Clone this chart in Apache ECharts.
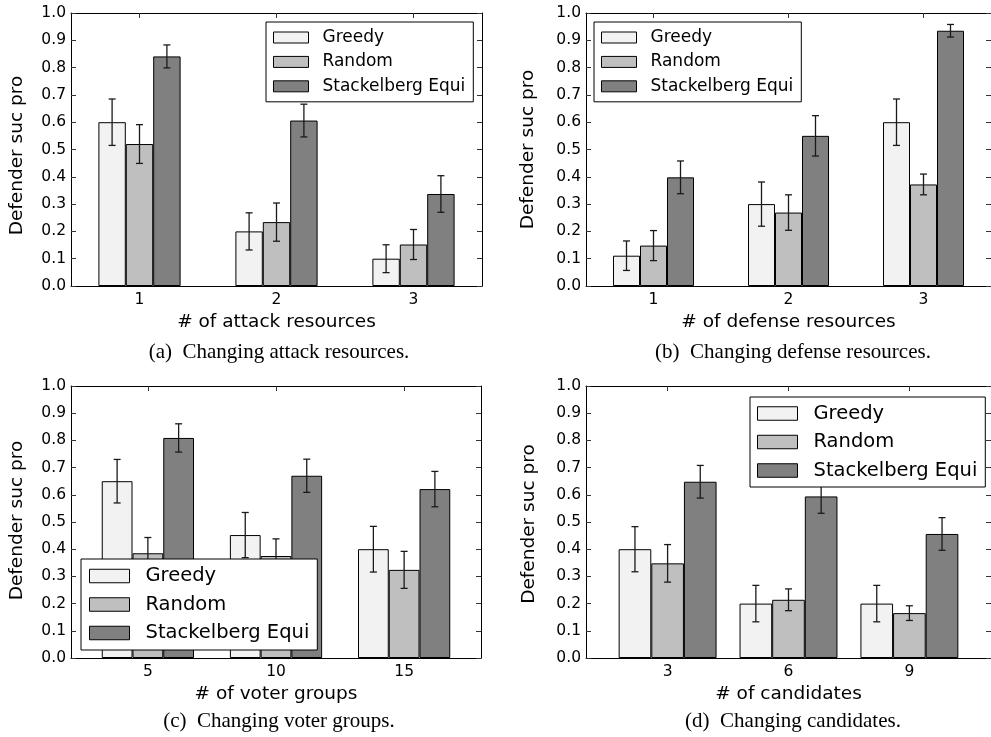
<!DOCTYPE html>
<html>
<head>
<meta charset="utf-8">
<script src="https://cdn.jsdelivr.net/npm/echarts@6/dist/echarts.min.js"></script>
<style>
html,body{margin:0;padding:0;background:#fff;}
#main{width:991px;height:737px;}
</style>
</head>
<body>
<div id="main"></div>
<script>
// ---------- data ----------
const seriesNames = ['Greedy', 'Random', 'Stackelberg Equi'];
const yTicks = [0.0, 0.1, 0.2, 0.3, 0.4, 0.5, 0.6, 0.7, 0.8, 0.9, 1.0];

const catsA = ['1', '2', '3'];
const greedyA = [0.60, 0.20, 0.10];
const greedyErrA = [0.085, 0.068, 0.051];
const randomA = [0.52, 0.234, 0.152];
const randomErrA = [0.071, 0.070, 0.055];
const stackA = [0.841, 0.606, 0.337];
const stackErrA = [0.042, 0.060, 0.067];

const catsB = ['1', '2', '3'];
const greedyB = [0.111, 0.30, 0.60];
const greedyErrB = [0.054, 0.081, 0.085];
const randomB = [0.148, 0.269, 0.372];
const randomErrB = [0.055, 0.065, 0.038];
const stackB = [0.398, 0.55, 0.935];
const stackErrB = [0.060, 0.074, 0.023];

const catsC = ['5', '10', '15'];
const greedyC = [0.65, 0.452, 0.40];
const greedyErrC = [0.080, 0.083, 0.084];
const randomC = [0.385, 0.375, 0.324];
const randomErrC = [0.058, 0.063, 0.068];
const stackC = [0.809, 0.67, 0.621];
const stackErrC = [0.052, 0.061, 0.065];

const catsD = ['3', '6', '9'];
const greedyD = [0.40, 0.20, 0.20];
const greedyErrD = [0.083, 0.067, 0.067];
const randomD = [0.348, 0.214, 0.165];
const randomErrD = [0.069, 0.040, 0.027];
const stackD = [0.648, 0.594, 0.456];
const stackErrD = [0.060, 0.062, 0.060];

const xNames = ['# of attack resources', '# of defense resources', '# of voter groups', '# of candidates'];
const captions = ['(a)  Changing attack resources.', '(b)  Changing defense resources.', '(c)  Changing voter groups.', '(d)  Changing candidates.'];
const yName = 'Defender suc pro';

// ---------- styles / layout ----------
const colors = ['#f2f2f2', '#bfbfbf', '#808080'];
const FONT = 'DejaVu Sans';
const panels = [
  {cats: catsA, vals: [greedyA, randomA, stackA], errs: [greedyErrA, randomErrA, stackErrA],
   grid: {left: 71, top: 13, width: 411, height: 273}, w: 0.2, yGap: 44.5, yPad: [0, 12, 0, 0],
   legend: {left: 266, top: 22, padding: [7, 8, 7, 7], iw: 35, ih: 11, fs: 17, tp: 9}},
  {cats: catsB, vals: [greedyB, randomB, stackB], errs: [greedyErrB, randomErrB, stackErrB],
   grid: {left: 586, top: 13, width: 411, height: 273}, w: 0.2, yGap: 48.5, yPad: [0, 0, 0, 0],
   legend: {left: 594, top: 22, padding: [7, 8, 7, 7], iw: 35, ih: 11, fs: 17, tp: 9}},
  {cats: catsC, vals: [greedyC, randomC, stackC], errs: [greedyErrC, randomErrC, stackErrC],
   grid: {left: 71, top: 386, width: 410, height: 272}, w: 0.24, yGap: 44.5, yPad: [0, 0, 0, 3],
   legend: {left: 81, top: 559, padding: [7, 8, 7, 8], iw: 40, ih: 13.5, fs: 19.5, tp: 11}},
  {cats: catsD, vals: [greedyD, randomD, stackD], errs: [greedyErrD, randomErrD, stackErrD],
   grid: {left: 586, top: 386, width: 410, height: 272}, w: 0.27, yGap: 47.3, yPad: [0, 4, 0, 0],
   legend: {left: 750, top: 397, padding: [6.5, 8, 6.5, 7], iw: 40, ih: 13.5, fs: 19.5, tp: 11}}
];
const capPos = [[279, 352], [793, 352], [279, 721], [793, 721]];

function errRender(k, w) {
  return function (params, api) {
    const x = api.value(0), y = api.value(1), e = api.value(2);
    const bw = api.size([w, 0])[0];
    const c = api.coord([x, y]);
    const cx = c[0] + (k - 1) * bw;
    const top = api.coord([x, y + e])[1];
    const bot = api.coord([x, y - e])[1];
    const cap = 3.5;
    const st = {stroke: '#1a1a1a', lineWidth: 1.3};
    return {type: 'group', children: [
      {type: 'line', shape: {x1: cx, y1: top, x2: cx, y2: bot}, style: st},
      {type: 'line', shape: {x1: cx - cap, y1: top, x2: cx + cap, y2: top}, style: st},
      {type: 'line', shape: {x1: cx - cap, y1: bot, x2: cx + cap, y2: bot}, style: st}
    ]};
  };
}

const option = {
  animation: false,
  backgroundColor: '#fff',
  grid: [], xAxis: [], yAxis: [], series: [], legend: [], graphic: []
};

const axisLine = {show: true, onZero: false, lineStyle: {color: '#000', width: 1}};
panels.forEach(function (p, g) {
  option.grid.push(Object.assign({containLabel: false}, p.grid));
  const xmin = -2.5 * p.w, xmax = 2 + 2.5 * p.w;
  const pos = p.cats.map(function (c, i) { return i; });
  option.xAxis.push({
    type: 'value', gridIndex: g, position: 'bottom', min: xmin, max: xmax,
    axisLine: axisLine, splitLine: {show: false},
    axisTick: {show: true, inside: true, length: 5, customValues: pos, lineStyle: {color: '#333'}},
    axisLabel: {show: true, customValues: pos, margin: 6, fontSize: 15.5, fontFamily: FONT, color: '#000',
      formatter: function (v) { return p.cats[Math.round(v)]; }},
    name: xNames[g], nameLocation: 'middle', nameGap: 26.5,
    nameTextStyle: {fontSize: 18.5, fontFamily: FONT, color: '#000'}
  });
  option.xAxis.push({
    type: 'value', gridIndex: g, position: 'top', min: xmin, max: xmax,
    axisLine: axisLine, splitLine: {show: false},
    axisTick: {show: true, inside: true, length: 5, customValues: pos, lineStyle: {color: '#333'}},
    axisLabel: {show: false}
  });
  option.yAxis.push({
    type: 'value', gridIndex: g, position: 'left', min: 0, max: 1, interval: 0.1,
    axisLine: axisLine, splitLine: {show: false},
    axisTick: {show: true, inside: true, length: 5, lineStyle: {color: '#333'}},
    axisLabel: {show: true, margin: 5, fontSize: 15.5, fontFamily: FONT, color: '#000',
      formatter: function (v) { return v.toFixed(1); }},
    name: yName, nameLocation: 'middle', nameGap: p.yGap,
    nameTextStyle: {fontSize: 18.5, fontFamily: FONT, color: '#000', padding: p.yPad}
  });
  option.yAxis.push({
    type: 'value', gridIndex: g, position: 'right', min: 0, max: 1, interval: 0.1,
    axisLine: axisLine, splitLine: {show: false},
    axisTick: {show: true, inside: true, length: 5, lineStyle: {color: '#333'}},
    axisLabel: {show: false}
  });
  seriesNames.forEach(function (name, k) {
    option.series.push({
      type: 'bar', name: name, xAxisIndex: 2 * g, yAxisIndex: 2 * g,
      barWidth: (p.w * 100) + '%', barGap: '0%',
      itemStyle: {color: colors[k], borderColor: '#000', borderWidth: 1},
      data: p.vals[k].map(function (v, i) { return [i, v]; }),
      z: 2
    });
  });
  seriesNames.forEach(function (name, k) {
    option.series.push({
      type: 'custom', name: name + ' err', xAxisIndex: 2 * g, yAxisIndex: 2 * g,
      renderItem: errRender(k, p.w), encode: {x: 0, y: 1},
      data: p.vals[k].map(function (v, i) { return [i, v, p.errs[k][i]]; }),
      z: 3, silent: true
    });
  });
  const L = p.legend;
  option.legend.push({
    data: seriesNames, orient: 'vertical', left: L.left, top: L.top,
    padding: L.padding, itemGap: 28 * (L.fs / 19.5) - L.fs, itemWidth: L.iw, itemHeight: L.ih,
    icon: 'rect', borderColor: '#000', borderWidth: 1, backgroundColor: '#fff', borderRadius: 0,
    itemStyle: {borderColor: '#000', borderWidth: 1},
    textStyle: {fontSize: L.fs, fontFamily: FONT, color: '#000', padding: [0, 0, 0, L.tp]},
    selectedMode: false, z: 10
  });
  option.graphic.push({
    type: 'text', x: capPos[g][0], y: capPos[g][1],
    style: {text: captions[g], font: '21px "Liberation Serif"', fill: '#000', textAlign: 'center', textVerticalAlign: 'middle'}
  });
});

const chart = echarts.init(document.getElementById('main'), null, {renderer: 'canvas'});
chart.setOption(option);
</script>
</body>
</html>
